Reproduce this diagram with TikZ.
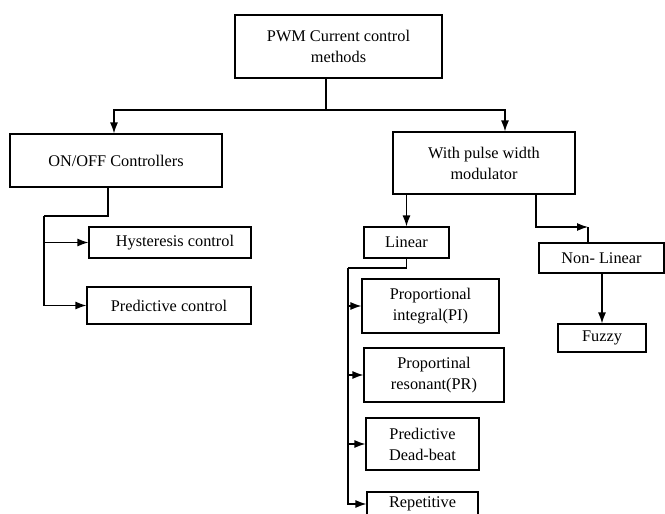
\documentclass[tikz,border=0pt]{standalone}
\usepackage{fontspec}
\setmainfont{Liberation Serif}
\usetikzlibrary{arrows.meta}
\tikzset{
  box/.style={draw, line width=1.2pt, inner sep=0pt, align=center,
    font=\fontsize{16.3}{21}\selectfont},
  arr/.style={-{Latex[length=11pt,width=8pt]}},
  con/.style={line width=1.2pt}
}
\begin{document}
\begin{tikzpicture}[x=1pt,y=-1pt]
\useasboundingbox (0,0) rectangle (665,514);
\clip (0,0) rectangle (665,514);
% boxes
\node[box, minimum width=207pt, minimum height=63pt] (top) at (338.5,46.5) {PWM Current control\\methods};
\node[box, minimum width=212pt, minimum height=53pt] (onoff) at (116,160.5) {ON/OFF Controllers};
\node[box, minimum width=162pt, minimum height=31pt] (hyst) at (170,242.5) {\hspace*{10pt}Hysteresis control};
\node[box, minimum width=164pt, minimum height=37pt] (pred) at (169,305.5) {Predictive control};
\node[box, minimum width=182pt, minimum height=62pt] (pwm) at (484,163) {With pulse width\\modulator};
\node[box, minimum width=85pt, minimum height=31pt] (linear) at (406.5,242.5) {Linear};
\node[box, minimum width=125pt, minimum height=30pt] (nonlin) at (601.5,258) {Non- Linear};
\node[box, minimum width=88pt, minimum height=28pt] (fuzzy) at (602,338) {Fuzzy};
\node[box, minimum width=137pt, minimum height=54pt] (pi) at (430.5,306) {Proportional\\integral(PI)};
\node[box, minimum width=140pt, minimum height=54pt] (pr) at (434,375) {Proportinal\\resonant(PR)};
\node[box, minimum width=113pt, minimum height=52pt] (pdb) at (422.5,444) {Predictive\\Dead-beat};
\node[box, minimum width=111pt, minimum height=24pt] (rep) at (422.5,504) {Repetitive};
% junctions
\coordinate (j0) at (326,110);
\coordinate (b1) at (44,216);
\coordinate (c2) at (588,227);
\coordinate (b2) at (348,268);
% top split
\draw[con] (j0 |- top.south) -- (j0);
\draw[con,arr] (j0) -| ([xshift=-2pt]onoff.north);
\draw[con,arr] (j0) -| ([xshift=21pt]pwm.north);
% on/off
\draw[con] ([xshift=-8pt]onoff.south) |- (b1);
\draw[con,arr] (b1) |- (pred.west);
\draw[con,arr] (b1 |- hyst.west) -- (hyst.west);
% pwm branches
\draw[con,arr] (linear.north |- pwm.south) -- (linear.north);
\draw[con,arr] ([xshift=52pt]pwm.south) |- (c2);
\draw[con] (c2) -- (c2 |- nonlin.north);
\draw[con,arr] (fuzzy.north |- nonlin.south) -- (fuzzy.north);
% linear bus
\draw[con] (linear.south) |- (b2);
\draw[con,arr] (b2) |- (rep.west);
\draw[con,arr] (b2 |- pi.west) -- (pi.west);
\draw[con,arr] (b2 |- pr.west) -- (pr.west);
\draw[con,arr] (b2 |- pdb.west) -- (pdb.west);
\end{tikzpicture}
\end{document}
